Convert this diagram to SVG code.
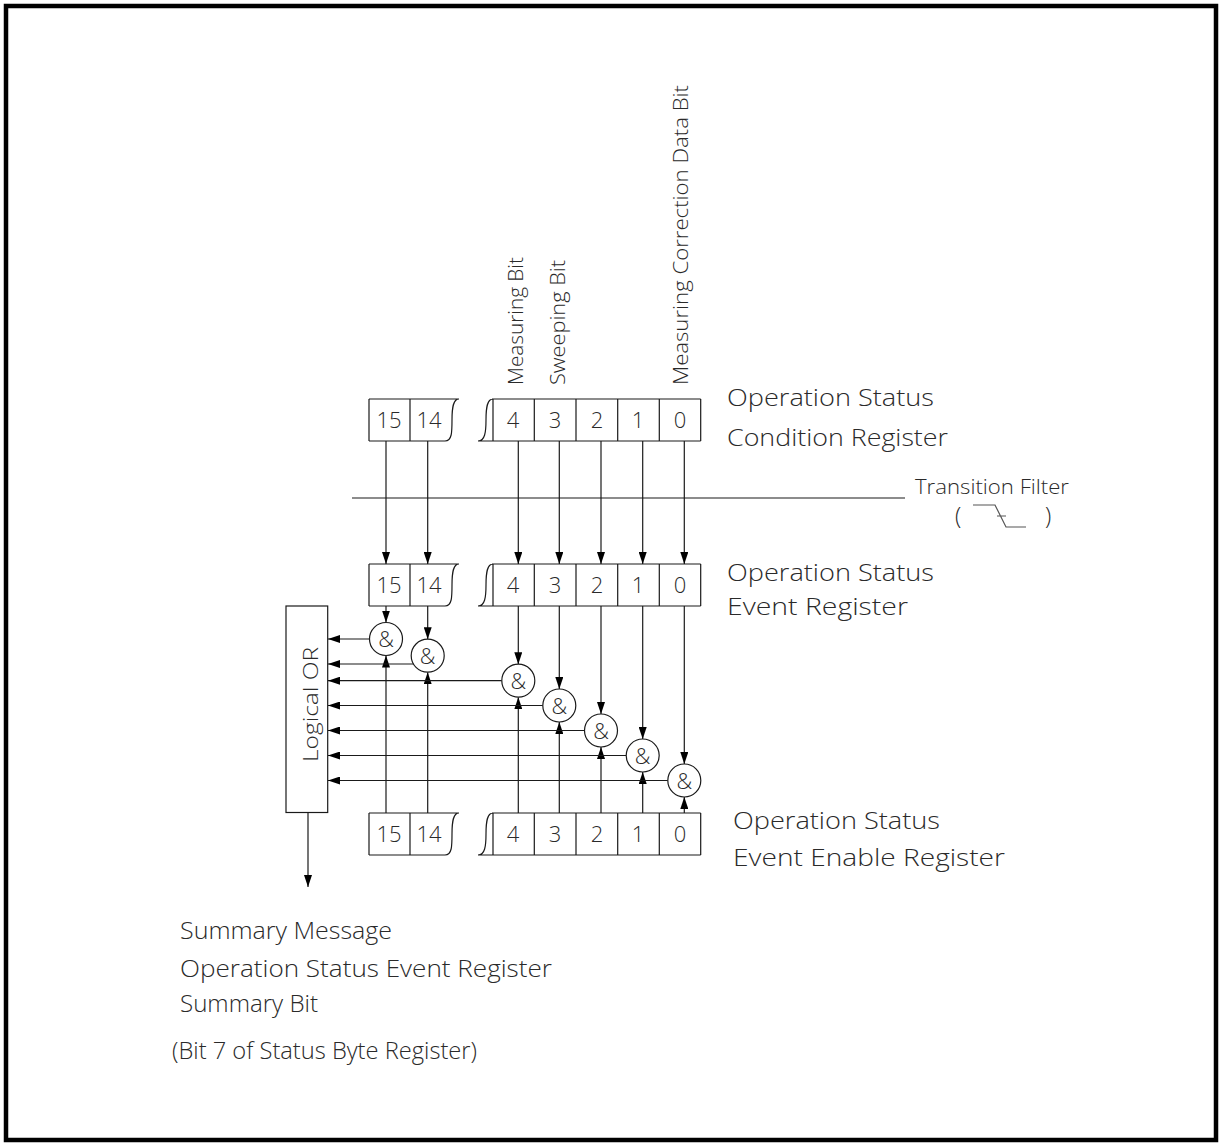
<svg xmlns="http://www.w3.org/2000/svg" width="1222" height="1146" viewBox="0 0 1222 1146">
<style>
.ln{stroke:#1a1a1a;stroke-width:1.2;fill:none}
.ar{stroke:#1a1a1a;stroke-width:1.2;fill:none;marker-end:url(#ah)}
.t{font-family:"Open Sans","Liberation Sans",sans-serif;font-weight:300;font-size:23px;fill:#2a2a2a}
.n{font-family:"Open Sans","Liberation Sans",sans-serif;font-weight:300;font-size:22px;fill:#2a2a2a;text-anchor:middle}
.a{font-family:"Open Sans","Liberation Sans",sans-serif;font-weight:300;font-size:22px;fill:#2a2a2a;text-anchor:middle}
.g{stroke:#1a1a1a;stroke-width:1.2;fill:#fff}
</style>
<defs>
<marker id="ah" viewBox="0 0 12 8" refX="12" refY="4" markerWidth="12" markerHeight="8" orient="auto" markerUnits="userSpaceOnUse"><path d="M0,0 L12,4 L0,8 z" fill="#000"/></marker>
</defs>
<rect x="6" y="6" width="1210" height="1134" fill="#fff" stroke="#000" stroke-width="4.5"/>

<g id="reg-condition">
<path class="ln" d="M369,399 H459 M369,441 H445 M369,399 V441 M410,399 V441 M445,441 C452,441 452,432 452,420 C452,408 453,399 459,399"/>
<path class="ln" d="M492,399 H700.7 M478,441 H700.7 M493,399 V441 M534.3,399 V441 M576,399 V441 M617.7,399 V441 M659.3,399 V441 M700.7,399 V441 M478,441 C485,441 486,432 486,420 C486,408 487,399 493,399"/>
<text class="n" x="389" y="428">15</text>
<text class="n" x="429" y="428">14</text>
<text class="n" x="513" y="428">4</text><text class="n" x="555" y="428">3</text><text class="n" x="597" y="428">2</text><text class="n" x="638" y="428">1</text><text class="n" x="680" y="428">0</text>
<text class="t" x="727" y="406" textLength="207" lengthAdjust="spacingAndGlyphs">Operation Status</text>
<text class="t" x="727" y="446" textLength="221" lengthAdjust="spacingAndGlyphs">Condition Register</text>
</g>

<g id="bit-labels">
<text class="t" transform="translate(523,385) rotate(-90)" style="font-size:21px" textLength="128" lengthAdjust="spacingAndGlyphs">Measuring Bit</text>
<text class="t" transform="translate(565,385) rotate(-90)" style="font-size:21px" textLength="125" lengthAdjust="spacingAndGlyphs">Sweeping Bit</text>
<text class="t" transform="translate(688,385) rotate(-90)" style="font-size:21px" textLength="300" lengthAdjust="spacingAndGlyphs">Measuring Correction Data Bit</text>
</g>

<g id="transition-filter">
<path class="ln" d="M352,498 H905"/>
<text class="t" x="915" y="494" style="font-size:20px" textLength="154" lengthAdjust="spacingAndGlyphs">Transition Filter</text>
<text class="t" x="955" y="524">(</text>
<text class="t" x="1045" y="524">)</text>
<path d="M973,505 H995 L1006,527 H1026 M997,516 H1006" stroke="#555" stroke-width="1.2" fill="none"/>
</g>

<g id="reg-event">
<path class="ln" d="M369,564 H459 M369,606 H445 M369,564 V606 M410,564 V606 M445,606 C452,606 452,597 452,585 C452,573 453,564 459,564"/>
<path class="ln" d="M492,564 H700.7 M478,606 H700.7 M493,564 V606 M534.3,564 V606 M576,564 V606 M617.7,564 V606 M659.3,564 V606 M700.7,564 V606 M478,606 C485,606 486,597 486,585 C486,573 487,564 493,564"/>
<text class="n" x="389" y="593">15</text>
<text class="n" x="429" y="593">14</text>
<text class="n" x="513" y="593">4</text><text class="n" x="555" y="593">3</text><text class="n" x="597" y="593">2</text><text class="n" x="638" y="593">1</text><text class="n" x="680" y="593">0</text>
<text class="t" x="727" y="581" textLength="207" lengthAdjust="spacingAndGlyphs">Operation Status</text>
<text class="t" x="727" y="615" textLength="181" lengthAdjust="spacingAndGlyphs">Event Register</text>
</g>

<g id="reg-enable">
<path class="ln" d="M369,813 H459 M369,855 H445 M369,813 V855 M410,813 V855 M445,855 C452,855 452,846 452,834 C452,822 453,813 459,813"/>
<path class="ln" d="M492,813 H700.7 M478,855 H700.7 M493,813 V855 M534.3,813 V855 M576,813 V855 M617.7,813 V855 M659.3,813 V855 M700.7,813 V855 M478,855 C485,855 486,846 486,834 C486,822 487,813 493,813"/>
<text class="n" x="389" y="842">15</text>
<text class="n" x="429" y="842">14</text>
<text class="n" x="513" y="842">4</text><text class="n" x="555" y="842">3</text><text class="n" x="597" y="842">2</text><text class="n" x="638" y="842">1</text><text class="n" x="680" y="842">0</text>
<text class="t" x="733" y="829" textLength="207" lengthAdjust="spacingAndGlyphs">Operation Status</text>
<text class="t" x="733" y="866" textLength="272" lengthAdjust="spacingAndGlyphs">Event Enable Register</text>
</g>

<g id="logical-or">
<rect x="286" y="606" width="41.7" height="206.5" class="g"/>
<text class="t" transform="translate(318,762) rotate(-90)" style="font-size:21px" textLength="115" lengthAdjust="spacingAndGlyphs">Logical OR</text>
</g>

<g id="connectors">
<path class="ar" d="M386,441 V564"/><path class="ar" d="M427.7,441 V564"/><path class="ar" d="M518.3,441 V564"/><path class="ar" d="M559.3,441 V564"/><path class="ar" d="M601,441 V564"/><path class="ar" d="M642.7,441 V564"/><path class="ar" d="M684.3,441 V564"/>
<path class="ar" d="M386,606 V622.5"/><path class="ar" d="M427.7,606 V639.2"/><path class="ar" d="M518.3,606 V664.2"/><path class="ar" d="M559.3,606 V689"/><path class="ar" d="M601,606 V714"/><path class="ar" d="M642.7,606 V739"/><path class="ar" d="M684.3,606 V764"/>
<path class="ar" d="M386,813 V655.5"/><path class="ar" d="M427.7,813 V672.2"/><path class="ar" d="M518.3,813 V697.2"/><path class="ar" d="M559.3,813 V722"/><path class="ar" d="M601,813 V747"/><path class="ar" d="M642.7,813 V772"/><path class="ar" d="M684.3,813 V797"/>
<path class="ar" d="M369.5,639 H328"/><path class="ar" d="M413.4,664 H328"/><path class="ar" d="M501.8,680.7 H328"/><path class="ar" d="M542.8,705.5 H328"/><path class="ar" d="M584.5,730.5 H328"/><path class="ar" d="M626.2,755.5 H328"/><path class="ar" d="M667.8,780.5 H328"/>
<path class="ar" d="M308,812.5 V887"/>
</g>

<g id="gate-15"><circle class="g" cx="386" cy="639" r="16.5"/><text class="a" x="386" y="647">&amp;</text></g>
<g id="gate-14"><circle class="g" cx="427.7" cy="655.7" r="16.5"/><text class="a" x="427.7" y="663.7">&amp;</text></g>
<g id="gate-4"><circle class="g" cx="518.3" cy="680.7" r="16.5"/><text class="a" x="518.3" y="688.7">&amp;</text></g>
<g id="gate-3"><circle class="g" cx="559.3" cy="705.5" r="16.5"/><text class="a" x="559.3" y="713.5">&amp;</text></g>
<g id="gate-2"><circle class="g" cx="601" cy="730.5" r="16.5"/><text class="a" x="601" y="738.5">&amp;</text></g>
<g id="gate-1"><circle class="g" cx="642.7" cy="755.5" r="16.5"/><text class="a" x="642.7" y="763.5">&amp;</text></g>
<g id="gate-0"><circle class="g" cx="684.3" cy="780.5" r="16.5"/><text class="a" x="684.3" y="788.5">&amp;</text></g>

<g id="summary-label">
<text class="t" x="180" y="939" textLength="212" lengthAdjust="spacingAndGlyphs">Summary Message</text>
<text class="t" x="180" y="977" textLength="372" lengthAdjust="spacingAndGlyphs">Operation Status Event Register</text>
<text class="t" x="180" y="1012" textLength="138" lengthAdjust="spacingAndGlyphs">Summary Bit</text>
<text class="t" x="172" y="1059" textLength="305" lengthAdjust="spacingAndGlyphs">(Bit 7 of Status Byte Register)</text>
</g>
</svg>
